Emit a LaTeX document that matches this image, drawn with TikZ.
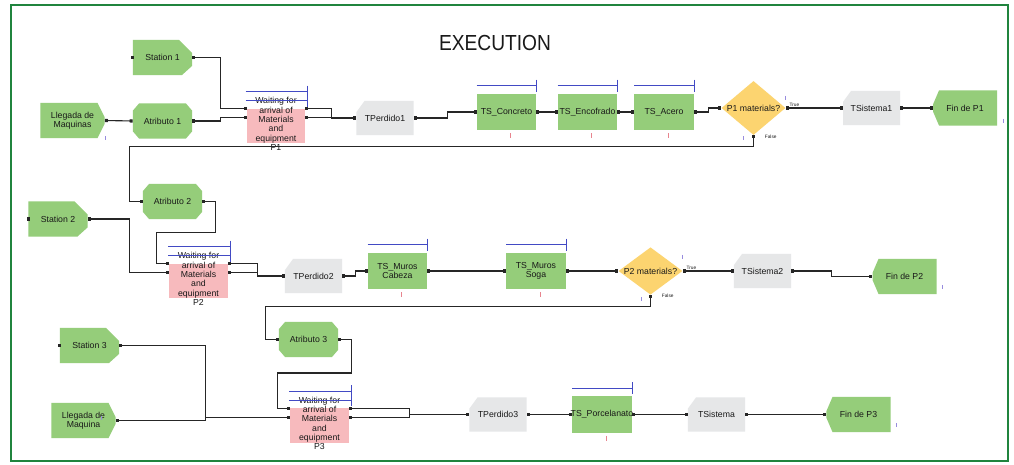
\documentclass[tikz,border=0pt]{standalone}
\usepackage{fontspec}
\setmainfont{Liberation Sans}
\newfontfamily\titlefont{Liberation Sans}[FakeStretch=0.88]
\usepackage{xcolor}
\usepackage{tikz}
\usetikzlibrary{shapes.geometric, arrows.meta, calc}

\definecolor{boxgreen}{RGB}{149,205,122}
\definecolor{boxgray}{RGB}{230,231,232}
\definecolor{boxpink}{RGB}{247,186,189}
\definecolor{boxyellow}{RGB}{252,212,112}
\definecolor{qblue}{RGB}{66,74,196}
\definecolor{framegreen}{RGB}{32,132,62}
\definecolor{markred}{RGB}{232,132,142}
\definecolor{markpurple}{RGB}{152,140,222}

\newcommand{\pbb}{path picture bounding box}

\begin{document}
\begin{tikzpicture}[x=0.025cm, y=-0.025cm,
  every node/.style={font=\fontsize{6.2}{6.6}\selectfont, text=black!90},
  blk/.style={inner sep=1pt, align=center},
  station/.style={blk, minimum width=1.475cm, minimum height=0.875cm,
    path picture={\fill[boxgreen] (\pbb.north west)
      -- ([xshift=-0.325cm]\pbb.north east) -- ([yshift=-0.325cm]\pbb.north east)
      -- ([yshift=0.225cm]\pbb.south east) -- ([xshift=-0.25cm]\pbb.south east)
      -- (\pbb.south west) -- cycle;}},
  create/.style={blk, minimum width=1.6cm, minimum height=0.875cm,
    path picture={\fill[boxgreen] (\pbb.north west)
      -- ([xshift=-0.175cm]\pbb.north east) -- ([yshift=-0.35cm]\pbb.north east)
      -- ([yshift=0.35cm]\pbb.south east) -- ([xshift=-0.175cm]\pbb.south east)
      -- (\pbb.south west) -- cycle;}},
  dispose/.style={blk, minimum width=1.6cm, minimum height=0.875cm,
    path picture={\fill[boxgreen] ([xshift=0.15cm]\pbb.north west)
      -- (\pbb.north east) -- (\pbb.south east)
      -- ([xshift=0.15cm]\pbb.south west) -- ([yshift=0.35cm]\pbb.south west)
      -- ([yshift=-0.35cm]\pbb.north west) -- cycle;}},
  assign/.style={blk, minimum width=1.475cm, minimum height=0.875cm,
    path picture={\fill[boxgreen] ([xshift=0.15cm]\pbb.north west)
      -- ([xshift=-0.15cm]\pbb.north east) -- ([yshift=-0.175cm]\pbb.north east)
      -- ([yshift=0.175cm]\pbb.south east) -- ([xshift=-0.15cm]\pbb.south east)
      -- ([xshift=0.15cm]\pbb.south west) -- ([yshift=0.175cm]\pbb.south west)
      -- ([yshift=-0.175cm]\pbb.north west) -- cycle;}},
  record/.style={blk, minimum width=1.425cm, minimum height=0.85cm,
    path picture={\fill[boxgray] ([xshift=0.2cm]\pbb.north west)
      -- (\pbb.north east) -- (\pbb.south east) -- (\pbb.south west)
      -- ([yshift=-0.275cm]\pbb.north west) -- cycle;}},
  process/.style={blk, fill=boxgreen, minimum width=1.475cm, minimum height=0.9cm},
  waitbox/.style={fill=boxpink, inner sep=0pt, minimum width=1.45cm, minimum height=0.85cm},
  waittext/.style={align=center, inner sep=0pt},
  decide/.style={diamond, aspect=1.3, fill=boxyellow, inner sep=0pt, minimum width=1.6cm, minimum height=1.35cm},
  port/.style={fill=black!85, inner sep=0pt, minimum size=2.2pt},
  flag/.style={font=\fontsize{3.4}{3.8}\selectfont, inner sep=0.6pt},
  conn/.style={draw=black!85, line width=0.8pt, {Square[length=2.2pt,width=2.2pt]}-{Square[length=2.2pt,width=2.2pt]}},
  queue/.style={draw=qblue, line width=0.8pt, -{Bar[width=0.3cm]}},
  redmark/.style={draw=markred, line width=0.6pt},
  purplemark/.style={draw=markpurple, line width=0.6pt}
]
  \fill[white] (0,0) rectangle (1014,465);
  \useasboundingbox (0,0) rectangle (1014,465);
  \draw[framegreen, line width=1.8pt] (11,5) rectangle (1008,461);

  \node[font=\titlefont\fontsize{15.5}{18}\selectfont] (title) at (495,43) {EXECUTION};

  \node[station] (st1) at (162.5,57.5) {Station 1};
  \node[create] (cr1) at (72.5,120.5) {Llegada de\\Maquinas};
  \node[assign] (as1) at (162.5,121) {Atributo 1};
  \node[waitbox] (w1) at (276,126) {};
  \node[waittext] (w1t) at ([yshift=0.05cm]w1.center) {Waiting for\\arrival of\\Materials\\and\\equipment\\P1};
  \node[record] (tp1) at (385,118) {TPerdido1};
  \node[process] (ts1) at (506.5,112) {TS\_Concreto};
  \node[process] (ts2) at (587.5,112) {TS\_Encofrado};
  \node[process] (ts3) at (664,112) {TS\_Acero};
  \node[decide] (d1) at (753.5,108) {P1 materials?};
  \node[record] (si1) at (871.5,108) {TSistema1};
  \node[dispose] (fin1) at (965,108) {Fin de P1};

  \node[assign] (as2) at (172.5,201.5) {Atributo 2};
  \node[station] (st2) at (58,219) {Station 2};
  \node[waitbox] (w2) at (198.5,281) {};
  \node[waittext] (w2t) at ([yshift=0.05cm]w2.center) {Waiting for\\arrival of\\Materials\\and\\equipment\\P2};
  \node[record] (tp2) at (313.5,276) {TPerdido2};
  \node[process] (tm1) at (397.5,271) {TS\_Muros\\Cabeza};
  \node[process] (tm2) at (536,271) {TS\_Muros\\Soga};
  \node[decide, minimum height=1.175cm] (d2) at (650.5,271) {P2 materials?};
  \node[record] (si2) at (762.5,271) {TSistema2};
  \node[dispose] (fin2) at (904.5,276.5) {Fin de P2};

  \node[station] (st3) at (89.5,345.5) {Station 3};
  \node[create] (cr3) at (83.5,420.5) {Llegada de\\Maquina};
  \node[assign] (as3) at (308.5,339.5) {Atributo 3};
  \node[waitbox] (w3) at (319.5,425.5) {};
  \node[waittext] (w3t) at ([yshift=0.05cm]w3.center) {Waiting for\\arrival of\\Materials\\and\\equipment\\P3};
  \node[record] (tp3) at (498,414.5) {TPerdido3};
  \node[process] (ts4) at (602,414.5) {\makebox[0pt]{TS\_Porcelanato}};
  \node[record] (si3) at (716.5,414.5) {TSistema};
  \node[dispose] (fin3) at (858.5,414.5) {Fin de P3};

  \foreach \n in {st1,st2,st3}
    \node[port] (\n-in) at (\n.west) {};

  \draw[conn] (st1.east) -- ++(28,0) |- (w1.north west);
  \draw[conn] (cr1.east) -- (as1.west);
  \draw[conn] (as1.east) -- ++(28,0) |- ([yshift=-0.225cm]w1.north west);
  \draw[conn] (w1.north east) -- ++(26,0) |- (tp1.west);
  \draw[conn] ([yshift=-0.225cm]w1.north east) -- ++(26,0) |- (tp1.west);
  \draw[conn] (tp1.east) -- ++(34,0) |- (ts1.west);
  \draw[conn] (ts1.east) -- (ts2.west);
  \draw[conn] (ts2.east) -- (ts3.west);
  \draw[conn] (ts3.east) -- ++(15,0) |- (d1.west);
  \draw[conn] (d1.east) -- (si1.west) node[flag, pos=0, anchor=south west, xshift=0.06cm] (d1t) {True};
  \draw[conn] (si1.east) -- (fin1.west);
  \draw[conn] (d1.south) -- ++(0,11) node[flag, pos=0.1, anchor=west, xshift=0.25cm] (d1f) {False}
    -| ([xshift=-0.325cm]as2.west) -- (as2.west);

  \draw[conn] (as2.east) -- ++(13,0) -- ++(0,31) -| ([xshift=-0.325cm]w2.north west) -- (w2.north west);
  \draw[conn] (st2.east) -- ++(42,0) |- ([yshift=-0.225cm]w2.north west);
  \draw[conn] (w2.north east) -- ++(30,0) |- (tp2.west);
  \draw[conn] ([yshift=-0.225cm]w2.north east) -- ++(30,0) |- (tp2.west);
  \draw[conn] (tp2.east) -- ++(13,0) |- (tm1.west);
  \draw[conn] (tm1.east) -- (tm2.west);
  \draw[conn] (tm2.east) -- (d2.west);
  \draw[conn] (d2.east) -- (si2.west) node[flag, pos=0, anchor=south west, xshift=0.06cm] (d2t) {True};
  \draw[conn] (si2.east) -- ++(40,0) |- (fin2.west);
  \draw[conn] (d2.south) -- ++(0,11.5) node[flag, pos=0.1, anchor=west, xshift=0.25cm] (d2f) {False}
    -| ([xshift=-0.325cm]as3.west) -- (as3.west);

  \draw[conn] (as3.east) -- ++(13,0) -- ++(0,33.5) -| ([xshift=-0.325cm]w3.north west) -- (w3.north west);
  \draw[conn] (st3.east) -- ++(86,0) |- ([yshift=-0.225cm]w3.north west);
  \draw[conn] (cr3.east) -- ++(90,0) |- ([yshift=-0.225cm]w3.north west);
  \draw[conn] (w3.north east) -- ++(61,0) |- (tp3.west);
  \draw[conn] ([yshift=-0.225cm]w3.north east) -- ++(61,0) |- (tp3.west);
  \draw[conn] (tp3.east) -- (ts4.west);
  \draw[conn] (ts4.east) -- (si3.west);
  \draw[conn] (si3.east) -- (fin3.west);

  \foreach \n in {ts1,ts2,ts3,tm1,tm2,ts4} {
    \draw[queue] ([yshift=0.2cm]\n.north west) -- ([xshift=0.025cm,yshift=0.2cm]\n.north east);
    \draw[redmark] (\n.south) ++(4,3) -- ++(0,5);
  }
  \foreach \n in {w1,w2,w3} {
    \draw[queue] ([xshift=-0.025cm,yshift=0.425cm]\n.north west) -- ([xshift=0.075cm,yshift=0.425cm]\n.north east);
    \draw[queue] ([xshift=-0.025cm,yshift=0.2cm]\n.north west) -- ([xshift=0.075cm,yshift=0.2cm]\n.north east);
  }

  \draw[purplemark] (cr1.south east) ++(1,-2) -- ++(0,4);
  \draw[purplemark] (cr3.east) ++(-14,-4) -- ++(0,4);
  \draw[purplemark] (d1.east) ++(0,-12) -- ++(0,4);
  \draw[purplemark] (d1.south) ++(-10,1) -- ++(0,4);
  \draw[purplemark] (fin1.east) ++(6,11) -- ++(0,4);
  \draw[purplemark] (d2.east) ++(0,-16) -- ++(0,4);
  \draw[purplemark] (d2.south) ++(-9.5,2.5) -- ++(0,4);
  \draw[purplemark] (fin2.east) ++(6,9) -- ++(0,4);
  \draw[purplemark] (fin3.east) ++(6,9) -- ++(0,4);
\end{tikzpicture}
\end{document}
